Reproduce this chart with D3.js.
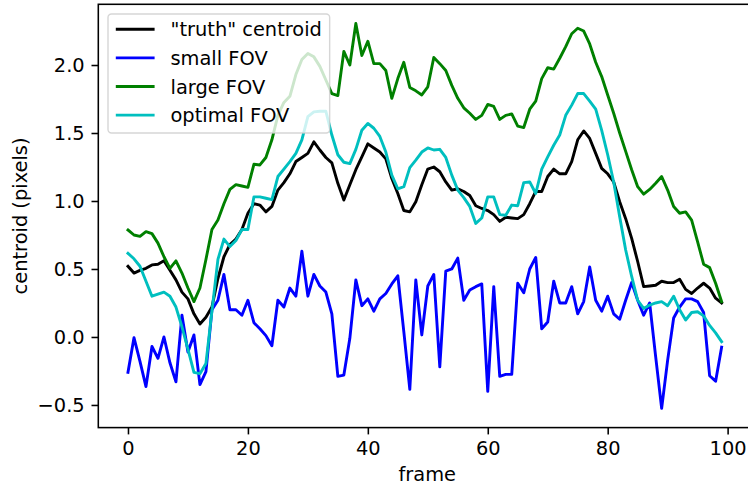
<!DOCTYPE html>
<html>
<head>
<meta charset="utf-8">
<script src="https://cdn.jsdelivr.net/npm/d3@7"></script>
<style>
  body { margin: 0; background: #fff; }
  svg { display: block; font-family: "DejaVu Sans", sans-serif; }
</style>
</head>
<body>
<div id="chart"></div>
<script>
// centroid per frame
const frames = d3.range(0, 100)
const seriesNames = ['"truth" centroid', "small FOV", "large FOV", "optimal FOV"]
const seriesColors = ["#000000", "#0000ff", "#008000", "#00bfbf"]
const xTicks = [0, 20, 40, 60, 80, 100]
const yTicks = [-0.5, 0.0, 0.5, 1.0, 1.5, 2.0]

const truth = [0.52, 0.47, 0.49, 0.505, 0.53, 0.535, 0.56, 0.49, 0.42, 0.33,
  0.28, 0.17, 0.095, 0.145, 0.22, 0.43, 0.59, 0.68, 0.72, 0.79,
  0.91, 0.98, 0.97, 0.92, 0.96, 1.08, 1.135, 1.20, 1.29, 1.32,
  1.35, 1.435, 1.375, 1.32, 1.28, 1.13, 1.007, 1.12, 1.23, 1.325,
  1.42, 1.39, 1.36, 1.31, 1.165, 1.055, 0.93, 0.92, 0.995, 1.12,
  1.235, 1.25, 1.215, 1.14, 1.08, 1.09, 1.07, 1.04, 0.965, 0.945,
  0.93, 0.90, 0.85, 0.88, 0.875, 0.87, 0.90, 0.98, 1.07, 1.07,
  1.18, 1.235, 1.20, 1.20, 1.29, 1.45, 1.515, 1.46, 1.35, 1.24,
  1.20, 1.14, 0.995, 0.87, 0.725, 0.555, 0.37, 0.375, 0.38, 0.41,
  0.40, 0.40, 0.425, 0.35, 0.32, 0.36, 0.395, 0.36, 0.285, 0.25]

const smallFov = [-0.26, -0.005, -0.18, -0.365, -0.07, -0.157, 0.0, -0.19, -0.33, 0.16,
  -0.11, 0.015, -0.35, -0.255, 0.20, 0.27, 0.46, 0.20, 0.20, 0.16,
  0.27, 0.105, 0.06, 0.01, -0.065, 0.27, 0.22, 0.36, 0.30, 0.63,
  0.30, 0.46, 0.375, 0.33, 0.17, -0.29, -0.28, -0.01, 0.42, 0.23,
  0.28, 0.19, 0.28, 0.32, 0.39, 0.45, 0.04, -0.385, 0.42, 0.015,
  0.375, 0.46, -0.22, 0.485, 0.50, 0.58, 0.27, 0.345, 0.37, 0.39,
  -0.40, 0.37, -0.29, -0.275, -0.275, 0.395, 0.325, 0.50, 0.585, 0.06,
  0.11, 0.41, 0.25, 0.25, 0.37, 0.17, 0.26, 0.515, 0.27, 0.19,
  0.30, 0.17, 0.13, 0.27, 0.40, 0.27, 0.16, 0.25, -0.145, -0.525,
  -0.17, 0.14, 0.22, 0.28, 0.28, 0.26, 0.18, -0.285, -0.325, -0.075]

const largeFov = [0.787, 0.75, 0.74, 0.775, 0.76, 0.69, 0.59, 0.505, 0.56, 0.47,
  0.36, 0.26, 0.36, 0.57, 0.79, 0.86, 0.98, 1.085, 1.12, 1.11,
  1.10, 1.27, 1.265, 1.32, 1.45, 1.63, 1.725, 1.77, 1.93, 2.04,
  2.085, 2.06, 1.99, 1.89, 1.79, 1.775, 2.10, 2.00, 2.305, 2.07,
  2.175, 2.01, 2.01, 1.96, 1.755, 1.90, 2.02, 1.835, 1.81, 1.78,
  1.84, 2.055, 2.01, 1.96, 1.85, 1.755, 1.685, 1.645, 1.60, 1.63,
  1.71, 1.695, 1.60, 1.63, 1.64, 1.55, 1.54, 1.675, 1.735, 1.90,
  1.98, 1.97, 2.05, 2.135, 2.23, 2.27, 2.25, 2.155, 2.02, 1.915,
  1.78, 1.645, 1.50, 1.365, 1.23, 1.105, 1.05, 1.085, 1.13, 1.18,
  1.08, 0.96, 0.91, 0.92, 0.86, 0.70, 0.535, 0.51, 0.395, 0.26]

const optimalFov = [0.615, 0.575, 0.52, 0.41, 0.30, 0.315, 0.33, 0.30, 0.22, 0.075,
  -0.09, -0.26, -0.27, -0.195, 0.19, 0.57, 0.72, 0.665, 0.71, 0.79,
  0.79, 1.03, 1.03, 1.02, 1.01, 1.18, 1.235, 1.29, 1.35, 1.45,
  1.62, 1.655, 1.66, 1.66, 1.485, 1.34, 1.285, 1.275, 1.38, 1.52,
  1.57, 1.535, 1.475, 1.36, 1.19, 1.09, 1.105, 1.245, 1.30, 1.36,
  1.39, 1.375, 1.38, 1.32, 1.19, 1.08, 1.025, 0.96, 0.835, 0.875,
  1.03, 1.03, 0.90, 0.895, 0.97, 0.965, 1.135, 1.14, 1.055, 1.235,
  1.325, 1.41, 1.485, 1.63, 1.705, 1.79, 1.79, 1.735, 1.675, 1.52,
  1.34, 1.14, 0.885, 0.64, 0.445, 0.27, 0.21, 0.235, 0.25, 0.26,
  0.23, 0.30, 0.20, 0.125, 0.18, 0.185, 0.155, 0.085, 0.03, -0.035]

const allSeries = [truth, smallFov, largeFov, optimalFov]

// dimensions (axes box runs off the right edge like the reference)
const margin = { top: 4.3, left: 98.3 }
const widthAx = 653
const heightAx = 423.3
const fontSize = 19.4

const svg = d3.select("#chart")
  .append("svg")
    .attr("width", 748)
    .attr("height", 486)

const chart = svg.append("g")
    .attr("transform", "translate(" + margin.left + "," + margin.top + ")")

// scales with 5% padding like matplotlib
const xExt = d3.extent(frames)
const xPad = (xExt[1] - xExt[0]) * 0.05
const x = d3.scaleLinear()
  .domain([xExt[0] - xPad, xExt[1] + xPad])
  .range([0, widthAx])

const yMin = d3.min(allSeries, s => d3.min(s))
const yMax = d3.max(allSeries, s => d3.max(s))
const yPad = (yMax - yMin) * 0.05
const y = d3.scaleLinear()
  .domain([yMin - yPad, yMax + yPad])
  .range([heightAx, 0])

chart.append("clipPath")
    .attr("id", "axclip")
  .append("rect")
    .attr("width", widthAx)
    .attr("height", heightAx)

// the lines
const line = d3.line()
  .x((d, i) => x(frames[i]))
  .y(d => y(d))

const lineGroup = chart.append("g").attr("clip-path", "url(#axclip)")
allSeries.forEach(function(s, k) {
  lineGroup.append("path")
    .datum(s)
    .attr("fill", "none")
    .attr("stroke", seriesColors[k])
    .attr("stroke-width", 2.9)
    .attr("stroke-linejoin", "round")
    .attr("stroke-linecap", "square")
    .attr("d", line)
})

// axes
const xAxis = chart.append("g")
  .attr("transform", `translate(0,${heightAx})`)
  .call(d3.axisBottom(x)
    .tickValues(xTicks)
    .tickFormat(d3.format("d"))
    .tickSizeOuter(0)
    .tickSize(6.8)
    .tickPadding(6.8))

const yAxis = chart.append("g")
  .call(d3.axisLeft(y)
    .tickValues(yTicks)
    .tickFormat(d3.format(".1f"))
    .tickSizeOuter(0)
    .tickSize(6.8)
    .tickPadding(6.8))

;[xAxis, yAxis].forEach(function(ax) {
  ax.select(".domain").remove()
  ax.selectAll(".tick line").attr("stroke", "#000").attr("stroke-width", 1.56)
  ax.selectAll(".tick text")
    .attr("fill", "#000")
    .style("font-size", fontSize + "px")
    .style("font-family", "DejaVu Sans")
})

// spines
chart.append("rect")
  .attr("width", widthAx)
  .attr("height", heightAx)
  .attr("fill", "none")
  .attr("stroke", "#000")
  .attr("stroke-width", 1.56)

// axis labels
svg.append("text")
  .attr("x", margin.left + x(xTicks[0]) + (x(xTicks[5]) - x(xTicks[0])) / 2 - 0.5)
  .attr("y", 481)
  .attr("text-anchor", "middle")
  .style("font-size", fontSize + "px")
  .text("frame")

svg.append("text")
  .attr("transform", `translate(27,${margin.top + heightAx / 2}) rotate(-90)`)
  .attr("text-anchor", "middle")
  .style("font-size", fontSize + "px")
  .text("centroid (pixels)")

// legend
const legend = chart.append("g")
  .attr("transform", "translate(9.7,9.7)")

const legendBox = legend.append("rect")
  .attr("rx", 3.5)
  .attr("ry", 3.5)
  .attr("fill", "#fff")
  .attr("fill-opacity", 0.8)
  .attr("stroke", "#cccccc")
  .attr("stroke-opacity", 0.8)
  .attr("stroke-width", 1.4)

let maxText = 0
seriesNames.forEach(function(name, k) {
  const cy = 15.3 + k * 28.6
  legend.append("line")
    .attr("x1", 7.8)
    .attr("x2", 46.6)
    .attr("y1", cy)
    .attr("y2", cy)
    .attr("stroke", seriesColors[k])
    .attr("stroke-width", 2.9)
  const t = legend.append("text")
    .attr("x", 62.5)
    .attr("y", cy + 7)
    .style("font-size", fontSize + "px")
    .text(name)
  maxText = Math.max(maxText, t.node().getComputedTextLength())
})

legendBox
  .attr("width", 62.5 + maxText + 7.8)
  .attr("height", 119)
</script>
</body>
</html>
